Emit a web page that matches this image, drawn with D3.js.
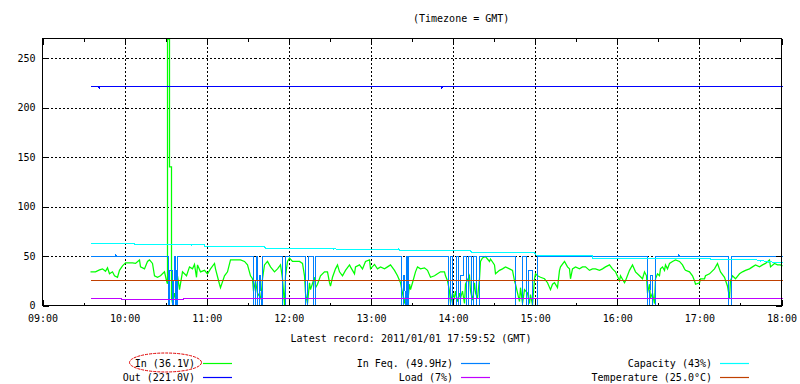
<!DOCTYPE html>
<html><head><meta charset="utf-8">
<script src="https://cdn.jsdelivr.net/npm/d3@7"></script>
<style>
body{margin:0;background:#fff}
text{font-family:"DejaVu Sans Mono","Liberation Mono",monospace;font-size:10px;fill:#000}
</style>
</head><body>
<svg id="c" width="800" height="384"></svg>
<script>
// ---- data (time = minutes after 09:00 GMT) ----
const titleText = "(Timezone = GMT)";
const footerText = "Latest record: 2011/01/01 17:59:52 (GMT)";
const xTickHours = [9,10,11,12,13,14,15,16,17,18];
const yTickValues = [0,50,100,150,200,250];
const legendLabels = ["In (36.1V)","Out (221.0V)","In Feq. (49.9Hz)","Load (7%)","Capacity (43%)","Temperature (25.0°C)"];
const seriesColors = ["#00ff00","#0000ff","#0080ff","#c000ff","#00ffff","#c04000"];
const seriesWidths = [1.25,1,1,1,1,1];

const inSeries = [[35,34],[38.7,34],[41.2,36],[43.6,37],[46,34.5],[47.2,38],[48.9,32],[50.9,34],[52.1,30],[54.5,28.5],[55.8,35.5],[58.2,40],[60.6,43],[65.5,43],[67.9,42.5],[70.4,46],[71.6,39],[74,37],[76.5,44.5],[77.7,46],[80.1,42.5],[81.3,30],[83.8,28.5],[86.2,30],[88.6,34],[89.9,25],[91.2,22],[91.2,269],[92.6,269],[92.6,140],[93.6,140],[93.6,8],[94.7,2],[95.9,12.5],[97.2,0.5],[98.4,30],[99.6,16],[102,34],[104.5,30],[106.9,39],[109.3,37],[110.5,41.5],[111.8,28.5],[113,41],[115.4,34],[117.9,35.5],[120.3,32],[122.7,37],[125.2,42.5],[126.4,37],[128.8,21.5],[130,18],[132.5,30],[134.9,34],[137.3,46],[141,46],[144.6,46],[147.1,44.5],[149.5,41],[151.9,30],[153.2,27],[153.9,14.5],[155.6,25],[156.8,12.5],[158.8,7.5],[159.7,14.5],[160.5,27],[161.7,41],[164.1,44.5],[166.6,39],[169,34],[171.4,37],[173.9,41],[175.1,27],[176.3,0.5],[177.5,30],[178.7,44.5],[179.9,48],[182.4,44.5],[187.3,44.5],[189.7,42.5],[190.9,30],[192.1,12.5],[193.3,2],[194.6,23],[195.8,16],[198.2,28.5],[199.4,18],[200.6,21.5],[203.1,30],[205.5,34],[207.9,34],[209.2,23],[210.4,19.5],[211.6,28.5],[214,37],[215.3,41],[216.5,34],[218.9,30],[221.3,35.5],[223.8,41],[225,39],[227.4,32],[228.7,39],[231.1,41],[233.5,37],[236,44.5],[238.4,46],[239.6,37],[242,41.5],[244.5,37],[246.9,39],[249.3,37],[251.8,39],[254.2,41],[256.6,35.5],[259.1,30],[261.5,23],[262.7,12.5],[264,2],[265.2,9],[266.4,0.5],[267.6,21.5],[268.8,16],[270,23],[272.5,34],[273.7,39],[276.1,37],[278.6,38],[281,35.5],[283.4,28.5],[285.9,30],[288.3,32],[290.7,34],[293.2,34],[294.4,30],[295.6,25],[296.8,14.5],[298,2],[299.3,12.5],[300.5,7.5],[301.7,14.5],[302.9,4],[304.1,12.5],[305.4,7.5],[306.6,14.5],[307.8,2],[309,21.5],[311.4,30],[312.7,14.5],[313.9,5.5],[315.1,23],[316.3,12.5],[317.5,7.5],[318.7,27],[320,44.5],[321.2,48],[323.6,49.5],[326,44.5],[327.3,47],[329.7,41],[330.9,32],[333.4,35.5],[335.8,37],[338.2,39],[340.7,37],[343.1,35.5],[344.3,25],[345.5,21.5],[348,4],[349.2,18],[350.4,2],[351.6,16],[354.1,12.5],[355.3,2],[356.5,11],[357.7,0.5],[358.9,27],[360.1,32],[361.4,30],[363.8,28.5],[366.2,27],[368.7,23],[371.1,16],[372.3,21.5],[373.5,23],[376,18],[377.2,35.5],[378.4,39],[380.8,44.5],[383.3,39],[384.5,37],[385.7,27],[386.9,37],[389.4,39],[391.8,37],[394.2,39],[396.7,39],[399.1,35.5],[401.5,37],[404,37],[406.4,35.5],[408.8,37],[411.3,39],[413.7,41],[416.1,37],[418.6,34],[421,25],[422.2,30],[424.7,23],[425.9,25],[428.3,35.5],[430.8,41],[433.2,34],[435.6,30],[438.1,27],[439.3,34],[441,30],[441.7,12.5],[442.9,21.5],[444.2,7.5],[445.4,12.5],[446.6,2],[447.8,27],[449,32],[450.2,30],[451.5,37],[452.7,39],[453.9,35.5],[455.1,41],[456.3,37],[457.5,42.5],[460,44.5],[462.4,46],[464.8,44.5],[467.3,41],[468.5,37],[469.7,35.5],[472.2,34],[474.6,30],[475.8,25],[477,21.5],[479.5,23],[480.7,27],[483.1,27],[484.3,30],[486.8,32],[490.4,37],[492.9,42.5],[495.3,34],[497.7,28.5],[500.2,19.5],[501.4,7.5],[502.6,25],[503.8,30],[506.2,27],[508.7,32],[511.1,34],[513.5,35.5],[516,37],[518.4,39],[520.9,41],[523.3,39],[525.7,41],[528.2,42.5],[530.6,46],[531.8,39],[534.2,42.5],[536.7,41],[539.1,41],[540,40]];

const outSeries = [[35,221],[40.6,221],[41,219],[41.4,221],[291,221],[291.4,219.5],[291.8,221],[540,221]];

const feqSeries = [[35,50],[53,50],[53.3,51.5],[53.6,50],
 [91.4,50],[91.5,0],[92.6,0],[92.7,35],[94.3,35],[94.4,0],[95.7,0],[95.8,50],[96.5,50],[96.6,0],[97.4,0],[97.5,36],[97.9,36],[98,0],[98.3,0],[98.4,50],
 [153.8,50],[153.9,0],[155.6,0],[155.7,50],[156.9,50],[157,0],[158,0],[158.1,30],[159.2,30],[159.3,0],[160.4,0],[160.5,50],
 [175,50],[175.1,0],[177.1,0],[177.2,50],
 [192,50],[192.1,0],[193.6,0],[193.7,50],[197.4,50],[197.5,0],[199.3,0],[199.4,50],
 [262.2,50],[262.3,0],[263.5,0],[263.6,30],[264.5,30],[264.6,0],[265.6,0],[265.7,50],[266.2,50],[266.3,0],[267.3,0],[267.4,50],
 [296.5,50],[296.6,0],[298,0],[298.1,50],[299.4,50],[299.5,0],[302.3,0],[302.4,50],[303.8,50],[303.9,0],[305.2,0],[305.3,30],[307.4,30],[307.5,50],[309.6,50],[309.7,0],[311.1,0],[311.2,50],[313.3,50],[313.4,0],[314.7,0],[314.8,50],[316.9,50],[317,0],[319.1,0],[319.2,50],
 [345.4,50],[345.5,0],[350.5,0],[350.6,50],[353.3,50],[353.4,0],[354.8,0],[354.9,35],[357.7,35],[357.8,0],[361.5,0],[361.6,50],
 [386.9,50],[387,51.5],[387.2,50],[394,50],[394.1,51.5],[394.3,50],
 [441.9,50],[442,0],[443.5,0],[443.6,30],[445.2,30],[445.3,0],[447.7,0],[447.8,50],
 [464.5,50],[464.6,52],[464.8,50],
 [501,50],[501.1,0],[503.2,0],[503.3,50],[540,50]];

const loadSeries = [[35,7],[57,7],[57.5,6.5],[70,6.5],[70.5,6],[102.5,6],[103,7],[540,7]];

const capacitySeries = [[35,62.6],[66.7,62.6],[66.8,61.6],[108.4,61.6],[108.6,60.6],[109.3,61.3],[118.2,61.3],[118.3,60],[161.3,60],[161.5,58.6],[162.2,59.3],[162.6,57.8],[212.3,57.8],[212.6,56.8],[213.6,57.4],[214.4,56.6],[259.3,56.6],[260,57.3],[260.6,56],[312.5,56],[313,53.3],[359.5,53.3],[360.5,50.2],[401.4,50.2],[401.6,47.6],[487.8,47.6],[488,46.2],[521.5,46.2],[522,45.2],[523,45.8],[524,44.9],[526,45.5],[527,44.8],[530,44.8],[530.5,43.8],[532,44.4],[533,43.5],[540,43.5]];

const tempSeries = [[35,25],[540,25]];

// ---- drawing ----
const base = new Date(2011,0,1,9,0);
const toDate = m => new Date(base.getTime() + m*60000);
const svg = d3.select("#c");
const L=42.5, R=781.5, T=38.5, B=305.5;
const x = d3.scaleTime().domain([toDate(0), toDate(540)]).range([L,R]);
const y = d3.scaleLinear().domain([0,269.7]).range([B,T]);

const hourDates = xTickHours.map(h => toDate((h-9)*60));
const halfDates = xTickHours.slice(0,-1).map(h => toDate((h-9)*60+30));

// grid
const grid = svg.append("g").attr("stroke","#000").attr("stroke-dasharray","2,2").attr("shape-rendering","crispEdges");
grid.selectAll("line.v").data(hourDates.slice(1,-1)).join("line")
  .attr("x1",d=>Math.round(x(d))+0.5).attr("x2",d=>Math.round(x(d))+0.5).attr("y1",T).attr("y2",B);
grid.selectAll("line.h").data(yTickValues.slice(1)).join("line")
  .attr("y1",d=>Math.round(y(d))+0.5).attr("y2",d=>Math.round(y(d))+0.5).attr("x1",L).attr("x2",R);

// series
const line = d3.line().x(d=>Math.round(x(toDate(d[0])))+0.5).y(d=>y(d[1]));
const allSeries = [inSeries,outSeries,feqSeries,loadSeries,capacitySeries,tempSeries];
const sg = svg.append("g");
allSeries.forEach((s,i)=>{
  const p = sg.append("path").datum(s).attr("d",line).attr("fill","none")
    .attr("stroke",seriesColors[i]).attr("stroke-width",seriesWidths[i]).attr("stroke-linejoin","miter");
  if (i>0) p.attr("shape-rendering","crispEdges");
});

// axes
function styleAxis(g){ g.select(".domain").remove(); g.selectAll("line").attr("shape-rendering","crispEdges"); g.selectAll("text").attr("font-family",null).attr("font-size",null); }
svg.append("g").attr("transform",`translate(0,${B})`)
  .call(d3.axisBottom(x).tickValues(hourDates).tickFormat(d3.timeFormat("%H:%M")).tickSize(-6).tickPadding(9)).call(styleAxis);
svg.append("g").attr("transform",`translate(0,${B})`)
  .call(d3.axisBottom(x).tickValues(halfDates).tickFormat("").tickSize(-3)).call(styleAxis);
svg.append("g").attr("transform",`translate(0,${T})`)
  .call(d3.axisTop(x).tickValues(hourDates).tickFormat("").tickSize(-6)).call(styleAxis);
svg.append("g").attr("transform",`translate(0,${T})`)
  .call(d3.axisTop(x).tickValues(halfDates).tickFormat("").tickSize(-3)).call(styleAxis);
svg.append("g").attr("transform",`translate(${L},0)`)
  .call(d3.axisLeft(y).tickValues(yTickValues).tickSize(-6).tickPadding(7)).call(styleAxis);
svg.append("g").attr("transform",`translate(${R},0)`)
  .call(d3.axisRight(y).tickValues(yTickValues).tickFormat("").tickSize(-6)).call(styleAxis);

// border
svg.append("rect").attr("x",L).attr("y",T).attr("width",R-L).attr("height",B-T)
  .attr("fill","none").attr("stroke","#000").attr("shape-rendering","crispEdges");

// title & footer
svg.append("text").attr("x",413).attr("y",22).text(titleText);
svg.append("text").attr("x",411).attr("y",341.5).attr("text-anchor","middle").text(footerText);

// legend (columns of 2 rows)
const colRight = [195,453,712];
const rowY = [363.5,377.5];
legendLabels.forEach((lab,i)=>{
  const c = Math.floor(i/2), r = i%2;
  svg.append("text").attr("x",colRight[c]).attr("y",rowY[r]+3.5).attr("text-anchor","end").text(lab);
  svg.append("line").attr("x1",colRight[c]+8).attr("x2",colRight[c]+37)
    .attr("y1",rowY[r]).attr("y2",rowY[r]).attr("stroke",seriesColors[i]).attr("stroke-width",1.2);
});

// red annotation ellipse around first legend entry
svg.append("ellipse").attr("cx",165.5).attr("cy",362.5).attr("rx",36).attr("ry",9.5)
  .attr("fill","none").attr("stroke","#e00000").attr("stroke-width",1).attr("stroke-dasharray","3,1");
</script>
</body></html>
